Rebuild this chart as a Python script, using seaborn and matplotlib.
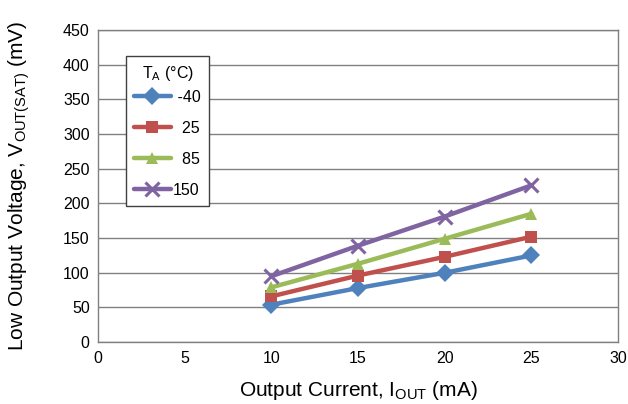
import matplotlib
matplotlib.use("Agg")
import matplotlib.pyplot as plt
import seaborn as sns
import pandas as pd

# values
current_ma = [10, 15, 20, 25]
temps = ["-40", "25", "85", "150"]
temp_labels = [" -40", "  25", "  85", "150"]
v_m40 = [54, 78, 100, 125]
v_25 = [66, 96, 123, 152]
v_85 = [79, 113, 149, 185]
v_150 = [95, 139, 181, 226]

colors = ["#4F81BD", "#C0504D", "#9BBB59", "#8064A2"]
markers = ["D", "s", "^", "X"]

rows = []
for t, vals in zip(temps, [v_m40, v_25, v_85, v_150]):
    for i, v in zip(current_ma, vals):
        rows.append({"current": i, "voltage": v, "temp": t})
df = pd.DataFrame(rows)

sns.set_style("white")
plt.rcParams["font.family"] = ["Liberation Sans", "DejaVu Sans"]
plt.rcParams["mathtext.fontset"] = "custom"
plt.rcParams["mathtext.rm"] = "Liberation Sans"
plt.rcParams["mathtext.it"] = "Liberation Sans:italic"
plt.rcParams["text.color"] = "black"
plt.rcParams["axes.labelcolor"] = "black"
plt.rcParams["xtick.color"] = "black"
plt.rcParams["ytick.color"] = "black"

fig = plt.figure(figsize=(6.28, 4.04), dpi=100)
ax = fig.add_axes([0.156, 0.153, 0.828, 0.773])

for t, lab, c, m in zip(temps, temp_labels, colors, markers):
    sub = df[df["temp"] == t]
    ms = 9 if m != "X" else 10
    sns.lineplot(data=sub, x="current", y="voltage", ax=ax, color=c,
                 linewidth=3.2, marker=m, markersize=ms, markeredgewidth=0,
                 label=lab)

# x marker for 150 drawn as a thin cross like the original
ax.lines[-1].set_marker("x")
ax.lines[-1].set_markeredgewidth(2.2)
ax.lines[-1].set_markeredgecolor(colors[3])

ax.set_xlim(0, 30)
ax.set_ylim(0, 450)
ax.set_xticks(range(0, 31, 5))
ax.set_yticks(range(0, 451, 50))
ax.yaxis.grid(True, color="#808080", linewidth=1)
ax.set_axisbelow(True)
for s in ax.spines.values():
    s.set_color("#808080")
    s.set_linewidth(1)
ax.tick_params(axis="both", length=0, labelsize=11.5, pad=6)

ax.set_xlabel("Output Current, I$_{\\mathrm{OUT}}$ (mA)", fontsize=15, labelpad=10)
ax.set_ylabel("Low Output Voltage, V$_{\\mathrm{OUT(SAT)}}$ (mV)", fontsize=15, labelpad=22)

leg = ax.legend(title="T$_{\\mathrm{A}}$ (°C)", loc="upper left",
                bbox_to_anchor=(0.054, 0.917), borderaxespad=0,
                fontsize=11.5, title_fontsize=11.5,
                frameon=True, fancybox=False, handlelength=2.3, labelspacing=1.0,
                borderpad=0.5, handletextpad=0.15)
leg._legend_box.sep = 5
leg.get_frame().set_edgecolor("#404040")
leg.get_frame().set_linewidth(1)
leg.get_frame().set_alpha(1)

fig.savefig("out.png", dpi=100)
